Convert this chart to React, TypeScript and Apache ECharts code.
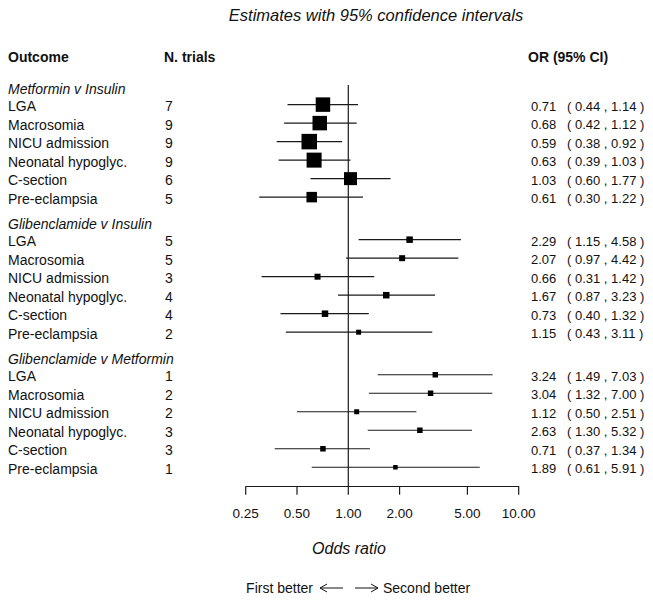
import React, { useEffect, useRef } from "react";
import * as echarts from "echarts";

// ---- Data ----
const groups = ["Metformin v Insulin", "Glibenclamide v Insulin", "Glibenclamide v Metformin"];
const outcomes = ["LGA", "Macrosomia", "NICU admission", "Neonatal hypoglyc.", "C-section", "Pre-eclampsia"];
const nTrials = [
  [7, 9, 9, 9, 6, 5],
  [5, 5, 3, 4, 4, 2],
  [1, 2, 2, 3, 3, 1],
];
const oddsRatio = [
  [0.71, 0.68, 0.59, 0.63, 1.03, 0.61],
  [2.29, 2.07, 0.66, 1.67, 0.73, 1.15],
  [3.24, 3.04, 1.12, 2.63, 0.71, 1.89],
];
const ciLower = [
  [0.44, 0.42, 0.38, 0.39, 0.6, 0.3],
  [1.15, 0.97, 0.31, 0.87, 0.4, 0.43],
  [1.49, 1.32, 0.5, 1.3, 0.37, 0.61],
];
const ciUpper = [
  [1.14, 1.12, 0.92, 1.03, 1.77, 1.22],
  [4.58, 4.42, 1.42, 3.23, 1.32, 3.11],
  [7.03, 7.0, 2.51, 5.32, 1.34, 5.91],
];
// relative box weight (drawn box size)
const boxWeight = [
  [14.5, 14.5, 15.5, 15, 13, 10.5],
  [6.5, 6, 6, 6.5, 6.5, 5],
  [5.5, 5.5, 5, 5.5, 5.5, 4.5],
];
const tickValues = [0.25, 0.5, 1, 2, 5, 10];

// ---- Layout ----
const GROUP_STEP = 7.3;
const HEADER_OFFSET = -0.92;
const Y_MIN = -1.06;
const Y_MAX = 20.65;
const FONT = '"Liberation Sans", Arial, Helvetica, sans-serif';
const INK = "#111";

export default function App() {
  const ref = useRef<HTMLDivElement>(null);

  useEffect(() => {
    document.body.style.margin = "0";
    if (!ref.current) return;
    const chart = echarts.init(ref.current, null, { renderer: "svg" });

    const forestData: number[][] = [];
    groups.forEach((_, g) => {
      outcomes.forEach((__, i) => {
        forestData.push([oddsRatio[g][i], ciLower[g][i], ciUpper[g][i], g * GROUP_STEP + i, boxWeight[g][i], g, i]);
      });
    });
    const headerData = groups.map((_, g) => [1, g * GROUP_STEP + HEADER_OFFSET, g]);

    const txt = (x: number, y: number, text: string, extra: any = {}) => ({
      type: "text",
      x,
      y,
      style: {
        text,
        fill: INK,
        fontSize: 14,
        fontFamily: FONT,
        align: "left",
        verticalAlign: "middle",
        ...extra,
      },
    });

    const option: any = {
      animation: false,
      backgroundColor: "#fff",
      grid: { left: 245.7, right: 134.3, top: 85, bottom: 115.3, containLabel: false },
      xAxis: {
        type: "log",
        logBase: 10,
        min: 0.25,
        max: 10,
        axisLine: { show: true, onZero: false, lineStyle: { color: "#1a1a1a", width: 1.2 } },
        axisTick: { show: false },
        axisLabel: { show: false },
        splitLine: { show: false },
        minorTick: { show: false },
        minorSplitLine: { show: false },
      },
      yAxis: {
        type: "value",
        inverse: true,
        min: Y_MIN,
        max: Y_MAX,
        show: false,
        splitLine: { show: false },
      },
      graphic: [
        txt(376, 15, "Estimates with 95% confidence intervals", { fontSize: 16.5, fontStyle: "italic", align: "center" }),
        txt(8, 57, "Outcome", { fontWeight: "bold" }),
        txt(164, 57, "N. trials", { fontWeight: "bold" }),
        txt(528, 57, "OR (95% CI)", { fontWeight: "bold" }),
        txt(349, 548, "Odds ratio", { fontSize: 16, fontStyle: "italic", align: "center" }),
        txt(313, 588, "First better", { align: "right" }),
        txt(383, 588, "Second better"),
        { type: "line", shape: { x1: 320, y1: 588, x2: 343, y2: 588 }, style: { stroke: INK, lineWidth: 1 } },
        { type: "polyline", shape: { points: [[327, 584], [320, 588], [327, 592]] }, style: { stroke: INK, fill: null, lineWidth: 1 } },
        { type: "line", shape: { x1: 355, y1: 588, x2: 378, y2: 588 }, style: { stroke: INK, lineWidth: 1 } },
        { type: "polyline", shape: { points: [[371, 584], [378, 588], [371, 592]] }, style: { stroke: INK, fill: null, lineWidth: 1 } },
      ],
      series: [
        {
          type: "custom",
          name: "reference",
          clip: false,
          data: [[1, Y_MIN]],
          encode: { x: 0, y: 1 },
          renderItem: (params: any, api: any) => {
            const a = api.coord([api.value(0), Y_MIN]);
            const b = api.coord([api.value(0), Y_MAX]);
            return {
              type: "line",
              shape: { x1: a[0], y1: a[1], x2: b[0], y2: b[1] },
              style: { stroke: "#1a1a1a", lineWidth: 1.2 },
            };
          },
        },
        {
          type: "custom",
          name: "ticks",
          clip: false,
          data: tickValues.map((v) => [v, Y_MAX]),
          encode: { x: 0, y: 1 },
          renderItem: (params: any, api: any) => {
            const v = api.value(0);
            const p = api.coord([v, Y_MAX]);
            return {
              type: "group",
              children: [
                { type: "line", shape: { x1: p[0], y1: p[1], x2: p[0], y2: p[1] + 8 }, style: { stroke: "#1a1a1a", lineWidth: 1.2 } },
                txt(p[0], p[1] + 27, v.toFixed(2), { fontSize: 13.5, align: "center" }),
              ],
            };
          },
        },
        {
          type: "custom",
          name: "headers",
          clip: false,
          data: headerData,
          encode: { x: 0, y: 1 },
          renderItem: (params: any, api: any) => {
            const p = api.coord([1, api.value(1)]);
            return txt(8, p[1] + 1, groups[api.value(2)], { fontStyle: "italic" });
          },
        },
        {
          type: "custom",
          name: "forest",
          clip: false,
          data: forestData,
          encode: { x: [0, 1, 2], y: 3 },
          renderItem: (params: any, api: any) => {
            const or = api.value(0);
            const lo = api.value(1);
            const hi = api.value(2);
            const row = api.value(3);
            const w = api.value(4);
            const g = api.value(5);
            const i = api.value(6);
            const pc = api.coord([or, row]);
            const pl = api.coord([lo, row]);
            const ph = api.coord([hi, row]);
            const y = pc[1];
            const ty = y + 1.5;
            return {
              type: "group",
              children: [
                { type: "line", shape: { x1: pl[0], y1: y, x2: ph[0], y2: y }, style: { stroke: "#1a1a1a", lineWidth: 1.2 } },
                { type: "rect", shape: { x: pc[0] - w / 2, y: y - w / 2, width: w, height: w }, style: { fill: "#000" } },
                txt(8, ty, outcomes[i]),
                txt(165, ty, String(nTrials[g][i])),
                txt(531, ty, or.toFixed(2), { fontSize: 13 }),
                txt(567, ty, `( ${lo.toFixed(2)} , ${hi.toFixed(2)} )`, { fontSize: 13 }),
              ],
            };
          },
        },
      ],
    };

    chart.setOption(option);
    return () => chart.dispose();
  }, []);

  return <div ref={ref} style={{ width: 653, height: 602 }} />;
}
